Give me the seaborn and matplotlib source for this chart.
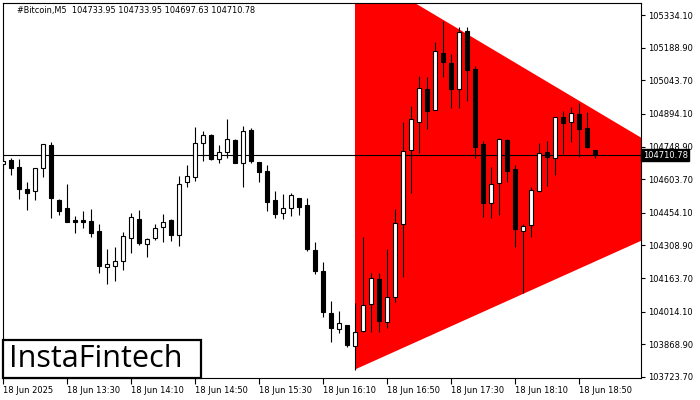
import matplotlib
matplotlib.use("Agg")
import matplotlib.pyplot as plt
from matplotlib.patches import Rectangle
import seaborn as sns
import pandas as pd

sns.set_theme(style="white")
plt.rcParams['font.family'] = ['DejaVu Sans']

# ---- data ----
opens = [104669.8, 104689.0, 104657.8, 104559.9, 104549.7, 104652.0, 104755.7, 104511.0, 104475.4, 104423.4,
         104423.4, 104417.6, 104373.1, 104214.3, 104218.7, 104240.9, 104340.6, 104426.5, 104315.2, 104340.6,
         104392.2, 104420.7, 104356.6, 104589.7, 104614.7, 104765.9, 104800.2, 104692.1, 104723.2, 104777.9,
         104674.3, 104822.4, 104678.7, 104640.0, 104511.0, 104451.8, 104474.1, 104518.6, 104488.8, 104287.7,
         104194.2, 104007.4, 103938.4, 103954.0, 103862.8, 103926.8, 104047.0, 104158.2, 103966.9, 104080.8,
         104405.6, 104734.8, 104856.7, 105004.8, 104912.7, 105166.3, 105120.5, 105003.5, 105264.2, 105093.8,
         104759.3, 104496.3, 104585.3, 104777.9, 104647.6, 104374.4, 104398.4, 104552.4, 104723.2, 104696.5,
         104878.9, 104856.7, 104892.3, 104831.3, 104733.95]
highs = [104725.9, 104696.5, 104693.4, 104592.4, 104652.0, 104758.8, 104769.0, 104515.4, 104582.2, 104439.8,
         104462.1, 104471.0, 104404.2, 104293.0, 104301.9, 104368.6, 104451.8, 104466.5, 104343.3, 104402.9,
         104448.7, 104426.5, 104617.8, 104666.7, 104837.1, 104816.6, 104804.6, 104754.4, 104871.4, 104782.4,
         104840.2, 104831.3, 104680.1, 104666.7, 104551.0, 104536.8, 104542.1, 104522.1, 104518.6, 104322.8,
         104233.8, 104060.8, 104019.4, 103957.1, 104052.8, 104347.7, 104187.6, 104187.6, 104293.0, 104471.0,
         104859.4, 104929.2, 105062.7, 105058.2, 105212.6, 105307.4, 105159.2, 105280.7, 105279.3, 105108.5,
         104772.2, 104659.2, 104786.8, 104782.4, 104666.7, 104402.9, 104567.5, 104763.3, 104773.5, 104882.5,
         104907.0, 104923.4, 104941.2, 104901.2, 104733.95]
lows = [104636.9, 104622.2, 104515.4, 104466.5, 104511.0, 104614.7, 104432.3, 104444.3, 104413.1, 104365.5,
        104385.1, 104347.7, 104187.6, 104138.6, 104152.0, 104199.6, 104273.9, 104310.8, 104256.1, 104333.0,
        104325.5, 104329.9, 104307.7, 104570.2, 104596.9, 104685.9, 104689.0, 104674.3, 104696.5, 104674.3,
        104570.2, 104674.3, 104592.4, 104462.1, 104433.1, 104427.8, 104441.2, 104444.3, 104285.4, 104183.1,
        103991.8, 103879.2, 103921.5, 103858.3, 103754.7, 103923.7, 103925.1, 103925.1, 103942.9, 104055.9,
        104169.8, 104543.5, 104718.8, 104828.2, 104910.1, 105058.2, 104921.6, 104921.6, 104952.8, 104696.5,
        104436.7, 104432.3, 104444.3, 104592.4, 104303.2, 104095.9, 104347.7, 104548.8, 104574.6, 104622.2,
        104714.3, 104770.4, 104703.6, 104743.7, 104697.63]
closes = [104685.9, 104654.7, 104561.3, 104543.5, 104652.0, 104758.8, 104518.6, 104463.4, 104414.5, 104414.5,
          104414.5, 104365.5, 104218.7, 104226.3, 104239.6, 104350.8, 104436.7, 104318.4, 104336.2, 104385.1,
          104414.5, 104356.6, 104580.8, 104616.4, 104763.3, 104798.9, 104693.4, 104723.2, 104781.1, 104676.9,
          104816.6, 104685.9, 104637.8, 104503.4, 104447.4, 104474.1, 104532.4, 104481.2, 104293.0, 104196.5,
          104014.0, 103942.9, 103962.4, 103867.2, 103922.4, 104042.5, 104162.6, 103974.0, 104078.1, 104407.3,
          104729.0, 104870.0, 105008.0, 104908.3, 105173.9, 105126.3, 105006.2, 105257.1, 105089.4, 104748.1,
          104499.0, 104580.8, 104781.1, 104641.4, 104380.6, 104394.0, 104554.1, 104718.8, 104701.0, 104878.9,
          104852.2, 104896.7, 104825.5, 104748.1, 104710.78]

current_price = 104710.78
title_text = "#Bitcoin,M5  104733.95 104733.95 104697.63 104710.78"

# triangle pattern (bar index, price)
tri_x = [44, 92.1, 44]
tri_y = [105546.0, 104527.0, 103757.0]

y_ticks = [105334.10, 105188.90, 105043.70, 104894.10, 104748.90, 104603.70,
           104454.10, 104308.90, 104163.70, 104014.10, 103868.90, 103723.70]
x_tick_pos = [0, 8, 16, 24, 32, 40, 48, 56, 64, 72]
x_tick_labels = ["18 Jun 2025", "18 Jun 13:30", "18 Jun 14:10", "18 Jun 14:50", "18 Jun 15:30",
                 "18 Jun 16:10", "18 Jun 16:50", "18 Jun 17:30", "18 Jun 18:10", "18 Jun 18:50"]

df = pd.DataFrame({"idx": range(len(opens)), "open": opens, "high": highs, "low": lows, "close": closes})
df["up"] = df["close"] >= df["open"]
df["bottom"] = df[["open", "close"]].min(axis=1)
df["height"] = (df["close"] - df["open"]).abs().clip(lower=1.5)

# ---- figure ----
W, H = 700, 400
fig = plt.figure(figsize=(7, 4), dpi=100)
ax = fig.add_axes([3 / W, 22 / H, 638 / W, 375 / H])
ax.set_facecolor("white")

ax.fill(tri_x, tri_y, color="#ff0000", lw=0, zorder=1)

ax.axhline(current_price, color="black", lw=0.8, zorder=2)

ax.vlines(df["idx"], df["low"], df["high"], color="black", lw=0.8, zorder=3)
ax.bar(df["idx"], df["height"], bottom=df["bottom"], width=0.62,
       color=["white" if u else "black" for u in df["up"]],
       edgecolor="black", linewidth=0.8, zorder=4)

ax.set_xlim(0, 79.75)
ax.set_ylim(103719.1, 105387.5)

for s in ax.spines.values():
    s.set_color("black")
    s.set_linewidth(0.8)

ax.yaxis.tick_right()
ax.set_yticks(y_ticks)
ax.set_yticklabels([f"{v:.2f}" for v in y_ticks], fontsize=6.0)
ax.set_xticks(x_tick_pos)
ax.set_xticklabels(x_tick_labels, fontsize=6.0, ha="left")
ax.tick_params(axis="y", which="both", right=True, left=False, direction="out", length=3, width=0.8,
               pad=2, colors="black")
ax.tick_params(axis="x", which="both", bottom=True, direction="out", length=4, width=0.8, pad=2,
               colors="black")
ax.set_xlabel("")
ax.set_ylabel("")

# current price label box
ax.text(1.0025, current_price, f"{current_price:.2f}", transform=ax.get_yaxis_transform(),
        ha="left", va="center", fontsize=6.0, color="white",
        bbox=dict(boxstyle="square,pad=0.2", facecolor="black", edgecolor="black"), zorder=10,
        clip_on=False)

# title
fig.text(17 / W, 1 - 11 / H, title_text, fontsize=5.9, ha="left", va="center", color="black")

# logo box
fig.patches.append(Rectangle((3 / W, 22 / H), 198 / W, 38 / H, transform=fig.transFigure,
                             facecolor="white", edgecolor="black", linewidth=1.6, zorder=20))
fig.text(96 / W, 1 - 359 / H, "InstaFintech", fontsize=22, ha="center", va="center",
         color="black", zorder=21, family=["Open Sans", "DejaVu Sans"])

fig.savefig("out.png", dpi=100)
